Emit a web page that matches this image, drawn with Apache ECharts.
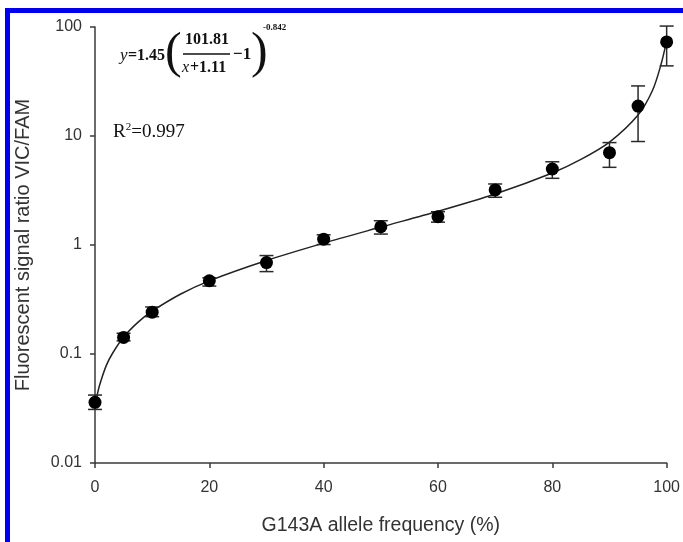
<!DOCTYPE html>
<html>
<head>
<meta charset="utf-8">
<script src="https://cdn.jsdelivr.net/npm/echarts@6/dist/echarts.min.js"></script>
<style>
  html, body { margin: 0; padding: 0; background: #fff; }
  #chart { width: 683px; height: 542px; }
</style>
</head>
<body>
<div id="chart"></div>
<script>
// measured points (allele frequency %, signal ratio) with error bar ends
var freq = [0, 5, 10, 20, 30, 40, 50, 60, 70, 80, 90, 95, 100];
var ratio = [0.036, 0.142, 0.242, 0.47, 0.69, 1.13, 1.47, 1.82, 3.2, 4.98, 7.03, 18.8, 73];
var errLow = [0.031, 0.132, 0.22, 0.42, 0.57, 1.01, 1.26, 1.62, 2.74, 4.09, 5.16, 8.9, 44];
var errHigh = [0.042, 0.155, 0.27, 0.50, 0.80, 1.24, 1.67, 2.02, 3.63, 5.8, 8.7, 28.8, 102];

// fitted curve
var curveX = [0, 0.5, 1, 2, 3, 5, 7.5, 10, 15, 20, 30, 40, 50, 60, 70, 80, 85, 90, 95, 97.5, 99, 100];
var curveY = [0.033, 0.045, 0.056, 0.079, 0.10, 0.143, 0.195, 0.247, 0.355, 0.469, 0.72, 1.04, 1.46, 2.04, 2.94, 4.58, 6.1, 8.8, 15.6, 26, 45, 75];

var yTickLabels = ['0.01', '0.1', '1', '10', '100'];

var chart = echarts.init(document.getElementById('chart'));

var pointData = freq.map(function (f, i) { return [f, ratio[i]]; });
var errData = freq.map(function (f, i) { return [f, errLow[i], errHigh[i]]; });
var curveData = curveX.map(function (f, i) { return [f, curveY[i]]; });

var axisColor = '#3a3a3a';
var serif = '"Liberation Serif", "Times New Roman", serif';

function eqText(x, y, text, size, style, weight) {
  return {
    type: 'text', x: x, y: y,
    style: {
      text: text, fill: '#111', font: (style || 'normal') + ' ' + (weight || 'bold') + ' ' + size + 'px ' + serif,
      verticalAlign: 'middle', align: 'left'
    }
  };
}

var option = {
  backgroundColor: '#fff',
  animation: false,
  grid: { left: 95, right: 15, top: 27, bottom: 79 },
  xAxis: {
    type: 'value', min: 0, max: 100, interval: 20,
    name: 'G143A allele frequency (%)', nameLocation: 'middle', nameGap: 53,
    nameTextStyle: { fontFamily: 'Liberation Sans', fontSize: 19.5, color: '#333' },
    axisLine: { lineStyle: { color: axisColor, width: 1.5 } },
    axisTick: { length: 5, lineStyle: { color: axisColor, width: 1.5 } },
    axisLabel: { fontFamily: 'Liberation Sans', fontSize: 16, color: '#333', margin: 17 },
    splitLine: { show: false }
  },
  yAxis: {
    type: 'log', logBase: 10, min: 0.01, max: 100,
    name: 'Fluorescent signal ratio VIC/FAM', nameLocation: 'middle', nameGap: 62,
    nameTextStyle: { fontFamily: 'Liberation Sans', fontSize: 20, color: '#333' },
    axisLine: { lineStyle: { color: axisColor, width: 1.5 } },
    axisTick: { length: 5, lineStyle: { color: axisColor, width: 1.5 } },
    axisLabel: {
      fontFamily: 'Liberation Sans', fontSize: 16, color: '#333', margin: 13,
      formatter: function (v) {
        var k = Math.round(Math.log10(v)) + 2;
        return yTickLabels[k] !== undefined ? yTickLabels[k] : '';
      }
    },
    minorTick: { show: false },
    splitLine: { show: false }
  },
  series: [
    {
      type: 'line', data: curveData, smooth: 0.3, showSymbol: false,
      lineStyle: { color: '#222', width: 1.5 }, z: 2
    },
    {
      type: 'custom', data: errData, clip: false, z: 3,
      renderItem: function (params, api) {
        var top = api.coord([api.value(0), api.value(2)]);
        var bot = api.coord([api.value(0), api.value(1)]);
        var half = 7;
        var st = { stroke: '#2a2a2a', lineWidth: 1.5 };
        return {
          type: 'group',
          children: [
            { type: 'line', shape: { x1: top[0], y1: top[1], x2: bot[0], y2: bot[1] }, style: st },
            { type: 'line', shape: { x1: top[0] - half, y1: top[1], x2: top[0] + half, y2: top[1] }, style: st },
            { type: 'line', shape: { x1: bot[0] - half, y1: bot[1], x2: bot[0] + half, y2: bot[1] }, style: st }
          ]
        };
      }
    },
    {
      type: 'scatter', data: pointData, symbol: 'circle', symbolSize: 13,
      itemStyle: { color: '#000', opacity: 1 }, z: 4
    }
  ],
  graphic: [
    { type: 'rect', shape: { x: 5, y: 8, width: 678, height: 5 }, style: { fill: '#0000f0' } },
    { type: 'rect', shape: { x: 5, y: 8, width: 5, height: 534 }, style: { fill: '#0000f0' } },
    eqText(120, 56, 'y', 17, 'italic', 'normal'),
    eqText(128, 56, '=1.45', 16),
    eqText(165, 54, '(', 50, 'normal', 'normal'),
    eqText(185, 40, '101.81', 16),
    { type: 'line', shape: { x1: 183, y1: 54, x2: 230, y2: 54 }, style: { stroke: '#111', lineWidth: 1.3 } },
    eqText(182, 68, 'x', 16, 'italic', 'normal'),
    eqText(190, 68, '+1.11', 16),
    eqText(233, 55, '\u22121', 17),
    eqText(251, 54, ')', 50, 'normal', 'normal'),
    eqText(263, 28, '-0.842', 9),
    {
      type: 'text', x: 113, y: 132,
      style: {
        text: 'R{sup|2}=0.997', font: '19px ' + serif, fill: '#111', verticalAlign: 'middle',
        rich: { sup: { fontSize: 11, verticalAlign: 'top', padding: [0, 0, 10, 0], fontFamily: serif } }
      }
    }
  ]
};

chart.setOption(option);
</script>
</body>
</html>
